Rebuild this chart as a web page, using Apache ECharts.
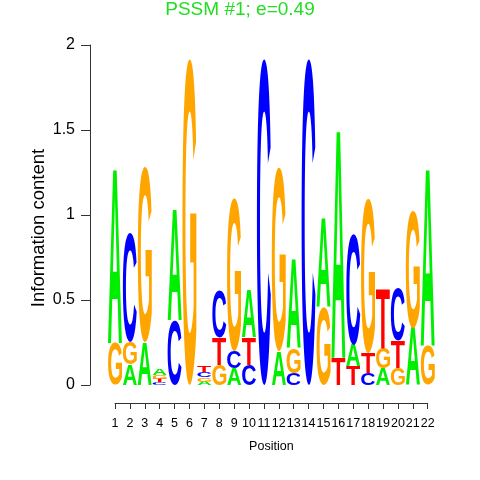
<!DOCTYPE html>
<html>
<head>
<meta charset="utf-8">
<script src="https://cdn.jsdelivr.net/npm/echarts@6/dist/echarts.min.js"></script>
<style>html,body{margin:0;padding:0;background:#fff}#c{width:480px;height:480px}</style>
</head>
<body>
<div id="c"></div>
<script>
// ---- data (information content of each base at each position) ----
const positions = [1,2,3,4,5,6,7,8,9,10,11,12,13,14,15,16,17,18,19,20,21,22];
const heightA = [1.03,0.12,0.25,0.04,0.66,0,0.02,0,0.10,0.28,0,0.20,0.53,0,0.53,1.35,0.13,0,0.10,0,0.34,1.05];
const heightC = [0,0.64,0,0.015,0.38,0,0.03,0.28,0.10,0.12,1.92,0,0.07,1.92,0,0,0.65,0.07,0,0.31,0,0];
const heightG = [0.25,0.13,1.03,0.025,0,1.92,0.025,0.12,0.90,0,0,1.08,0.15,0,0.46,0,0,0.91,0.12,0.10,0.69,0.23];
const heightT = [0,0,0,0.02,0,0,0.035,0.16,0,0.16,0,0,0,0,0,0.16,0.11,0.12,0.35,0.16,0,0];
const bases = ['A','C','G','T'];
const baseColors = {A:'#00EE00', C:'#0000FF', G:'#FFA500', T:'#FF0000'};
const yTicks = [0,0.5,1,1.5,2];
const titleText = 'PSSM #1; e=0.49';
const yTitle = 'Information content';
const xTitle = 'Position';

// ---- stack letters: smallest at bottom ----
const heights = {A:heightA, C:heightC, G:heightG, T:heightT};
const items = [];
positions.forEach((p, i) => {
  const col = bases.map(b => ({b, h: heights[b][i]})).filter(d => d.h > 0);
  col.sort((a, b) => a.h - b.h);
  let y = 0;
  col.forEach(d => {
    items.push([p, y, y + d.h, bases.indexOf(d.b)]);
    y += d.h;
  });
});

// ---- glyph metrics ----
const FONT = 'bold 100px "Liberation Sans"';
const mctx = document.createElement('canvas').getContext('2d');
mctx.font = FONT;
mctx.textBaseline = 'middle';
mctx.textAlign = 'left';
const metrics = {};
bases.forEach(b => {
  const m = mctx.measureText(b);
  metrics[b] = {
    left: m.actualBoundingBoxLeft, right: m.actualBoundingBoxRight,
    asc: m.actualBoundingBoxAscent, desc: m.actualBoundingBoxDescent
  };
});

const chart = echarts.init(document.getElementById('c'), null, {renderer: 'canvas'});
const halfW = 0.47;
chart.setOption({
  animation: false,
  title: {
    text: titleText, left: 'center', top: 0, padding: 0,
    textStyle: {color: '#22DD22', fontSize: 19, fontWeight: 'normal', fontFamily: 'Liberation Sans'}
  },
  graphic: [{
    type: 'text', x: 39, y: 228, rotation: Math.PI / 2,
    style: {text: yTitle, fill: '#000', font: '18.5px "Liberation Sans"',
      align: 'center', verticalAlign: 'middle', textAlign: 'center', textVerticalAlign: 'middle'}
  }],
  grid: {left: 115, right: 52.3, top: 45, bottom: 95},
  xAxis: {
    type: 'value', min: 1, max: 22, interval: 1, offset: 18,
    name: xTitle, nameLocation: 'middle', nameGap: 37,
    nameTextStyle: {color: '#000', fontSize: 12.5, fontFamily: 'Liberation Sans'},
    axisLine: {show: true, onZero: false, lineStyle: {color: '#333', width: 1}},
    axisTick: {show: true, length: 6, lineStyle: {color: '#333'}},
    axisLabel: {color: '#000', fontSize: 12.5, margin: 14, fontFamily: 'Liberation Sans',
      formatter: v => String(positions[v - 1])},
    splitLine: {show: false}
  },
  yAxis: {
    type: 'value', min: 0, max: 2, interval: 0.5, offset: 25,
    axisLine: {show: true, onZero: false, lineStyle: {color: '#333', width: 1}},
    axisTick: {show: true, length: 9, lineStyle: {color: '#333'}},
    axisLabel: {color: '#000', fontSize: 16, margin: 15, fontFamily: 'Liberation Sans',
      formatter: v => String(yTicks.find(t => Math.abs(t - v) < 1e-9))},
    splitLine: {show: false}
  },
  series: [{
    type: 'custom',
    clip: false,
    silent: true,
    encode: {x: 0, y: [1, 2]},
    data: items,
    renderItem: function (params, api) {
      const p = api.value(0), y0 = api.value(1), y1 = api.value(2);
      const b = bases[api.value(3)];
      const tl = api.coord([p - halfW, y1]);
      const br = api.coord([p + halfW, y0]);
      const W = br[0] - tl[0], H = br[1] - tl[1];
      const m = metrics[b];
      const sx = W / (m.left + m.right);
      const sy = H / (m.asc + m.desc);
      return {
        type: 'text',
        x: tl[0] + m.left * sx,
        y: tl[1] + m.asc * sy,
        scaleX: sx, scaleY: sy,
        style: {
          text: b, font: FONT, fill: baseColors[b],
          align: 'left', verticalAlign: 'middle',
          textAlign: 'left', textVerticalAlign: 'middle'
        }
      };
    }
  }]
});
</script>
</body>
</html>
